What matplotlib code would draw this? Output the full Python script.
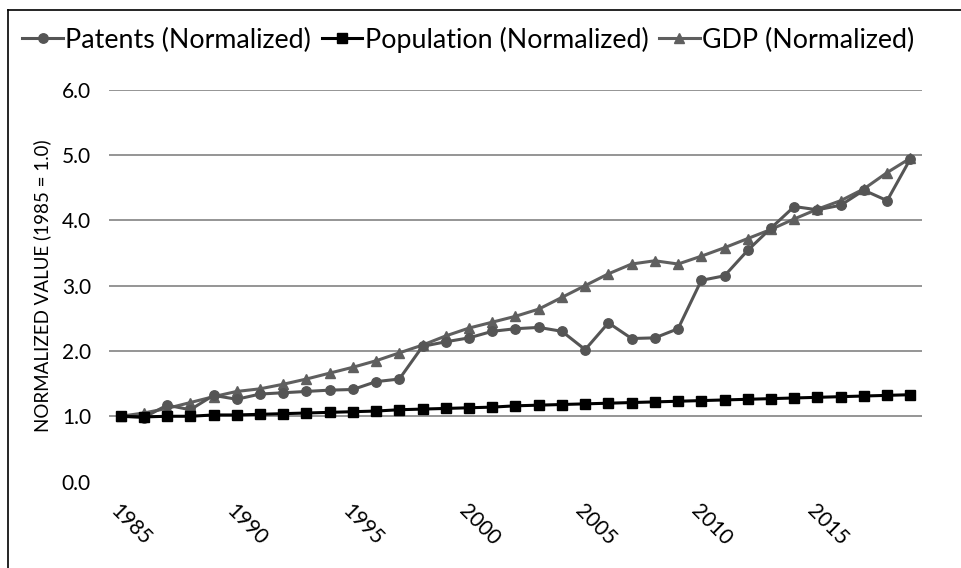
import matplotlib.pyplot as plt
from matplotlib.lines import Line2D

plt.rcParams['font.family'] = ['Lato', 'DejaVu Sans']

years = [1985, 1986, 1987, 1988, 1989, 1990, 1991, 1992, 1993, 1994,
         1995, 1996, 1997, 1998, 1999, 2000, 2001, 2002, 2003, 2004,
         2005, 2006, 2007, 2008, 2009, 2010, 2011, 2012, 2013, 2014,
         2015, 2016, 2017, 2018, 2019]

patents = [1.00, 0.98, 1.17, 1.10, 1.32, 1.26, 1.34, 1.36, 1.38, 1.40,
           1.41, 1.53, 1.57, 2.07, 2.14, 2.20, 2.30, 2.34, 2.36, 2.30,
           2.02, 2.43, 2.19, 2.20, 2.34, 3.08, 3.15, 3.54, 3.88, 4.21,
           4.16, 4.23, 4.46, 4.30, 4.94]

population = [1.00, 0.99, 1.00, 1.00, 1.02, 1.02, 1.03, 1.04, 1.05, 1.06,
              1.07, 1.08, 1.10, 1.11, 1.12, 1.13, 1.14, 1.16, 1.17, 1.18,
              1.19, 1.20, 1.21, 1.22, 1.23, 1.24, 1.25, 1.26, 1.27, 1.28,
              1.29, 1.30, 1.31, 1.32, 1.33]

gdp = [1.00, 1.05, 1.12, 1.21, 1.30, 1.38, 1.42, 1.49, 1.57, 1.66,
       1.75, 1.85, 1.97, 2.09, 2.23, 2.35, 2.44, 2.53, 2.64, 2.82,
       3.00, 3.18, 3.33, 3.38, 3.33, 3.45, 3.58, 3.72, 3.86, 4.02,
       4.17, 4.30, 4.48, 4.73, 4.95]

tick_years = [1985, 1990, 1995, 2000, 2005, 2010, 2015]
y_ticks = [0, 1, 2, 3, 4, 5, 6]

fig = plt.figure(figsize=(9.61, 5.68), dpi=100)
ax = fig.add_axes([0.1134, 0.1521, 0.846, 0.6902])

x = list(range(len(years)))
ax.plot(x, patents, color='#555555', lw=2.2, marker='o', ms=6.8,
        label='Patents (Normalized)', zorder=3)
ax.plot(x, population, color='black', lw=2.2, marker='s', ms=6.8,
        label='Population (Normalized)', zorder=4)
ax.plot(x, gdp, color='#5f5f5f', lw=2.2, marker='^', ms=6.8,
        label='GDP (Normalized)', zorder=2)

ax.set_xlim(-0.5, len(years) - 0.5)
ax.set_ylim(0, 6)

# gridlines for 1..6 only
for v in y_ticks[1:]:
    ax.axhline(v, color='#8c8c8c', lw=1.3, zorder=1)

ax.set_yticks(y_ticks)
ax.set_yticklabels([f'{v:.1f}' for v in y_ticks], fontsize=15)
ax.set_xticks([years.index(y) for y in tick_years])
ax.set_xticklabels([str(y) for y in tick_years], fontsize=15)
ax.tick_params(length=0)
ax.tick_params(axis='y', pad=13)
ax.tick_params(axis='x', pad=14)
plt.setp(ax.get_xticklabels(), rotation=-45, ha='left', va='top',
         rotation_mode='anchor')

for s in ax.spines.values():
    s.set_visible(False)

ax.set_ylabel('NORMALIZED VALUE (1985 = 1.0)', fontsize=13.5, labelpad=8)

fig.legend(loc='center', bbox_to_anchor=(0.4875, 0.93), ncol=3, frameon=False,
           fontsize=19.3, handlelength=1.5, handletextpad=0.1, columnspacing=0.4,
           borderaxespad=0)

# chart border (top and left edges)
fig.add_artist(Line2D([8 / 961, 1.0], [1 - 10 / 568, 1 - 10 / 568],
                      color='black', lw=1.2, transform=fig.transFigure))
fig.add_artist(Line2D([8 / 961, 8 / 961], [0.0, 1 - 10 / 568],
                      color='black', lw=1.2, transform=fig.transFigure))

fig.savefig('out.png', dpi=100)
